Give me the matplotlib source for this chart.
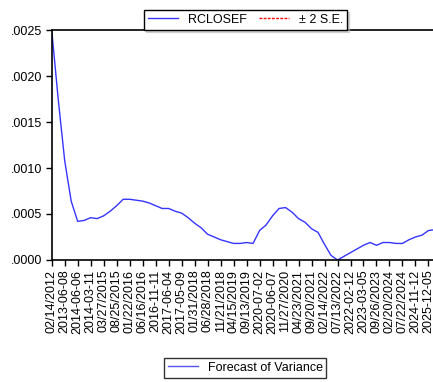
import numpy as np
import matplotlib
matplotlib.use("Agg")
import matplotlib.pyplot as plt
from matplotlib.lines import Line2D

plt.rcParams['font.family'] = ['Liberation Sans', 'DejaVu Sans']

# forecast of variance, read every half tick interval
variance = [0.0025, 0.00175, 0.00108, 0.00064, 0.00042, 0.00043, 0.00046, 0.00045,
            0.00048, 0.00053, 0.00059, 0.00066, 0.00066, 0.00065, 0.00064, 0.00062,
            0.00059, 0.00056, 0.00056, 0.00053, 0.00051, 0.00046, 0.00040, 0.00035,
            0.00028, 0.00025, 0.00022, 0.00020, 0.00018, 0.00018, 0.00019, 0.00018,
            0.00032, 0.00038, 0.00048, 0.00056, 0.00057, 0.00052, 0.00045, 0.00041,
            0.00034, 0.00030, 0.00017, 0.00005, 0.00000, 0.00004, 0.00008, 0.00012,
            0.00016, 0.00019, 0.00016, 0.00019, 0.00019, 0.00018, 0.00018, 0.00022,
            0.00025, 0.00027, 0.00032, 0.00033]

date_labels = ['02/14/2012', '2013-06-08', '2014-06-06', '2014-03-11', '03/27/2015',
               '08/25/2015', '01/22/2016', '06/16/2016', '2016-11-11', '2017-06-04',
               '2017-05-09', '01/31/2018', '06/28/2018', '11/21/2018', '04/15/2019',
               '09/13/2019', '2020-07-02', '2020-06-07', '11/27/2020', '04/23/2021',
               '09/20/2021', '02/14/2022', '07/13/2022', '2022-02-12', '2023-03-05',
               '09/26/2023', '02/20/2024', '07/22/2024', '2024-11-12', '2025-12-05']

yticks = [0.0, 0.0005, 0.0010, 0.0015, 0.0020, 0.0025]

fig = plt.figure(figsize=(4.33, 3.82), dpi=100)
ax = fig.add_axes([0.1194, 0.3194, 0.8806, 0.602])

x = np.arange(len(variance))
ax.plot(x, variance, color='#3535ff', lw=1.0)

ax.set_xlim(0, 58.7)
ax.set_ylim(0, 0.0025)
ax.set_xticks(np.arange(len(date_labels)) * 2)
ax.set_xticklabels(date_labels, rotation=90, fontsize=9)
ax.set_yticks(yticks)
ax.set_yticklabels([f"{v:.4f}".lstrip('0') for v in yticks], fontsize=9)
ax.tick_params(direction='out', length=4, width=1, pad=3)

for s in ['left', 'top', 'bottom']:
    ax.spines[s].set_linewidth(1.2)
ax.spines['right'].set_visible(False)

top_handles = [Line2D([], [], color='#3535ff', lw=1.0),
               Line2D([], [], color='red', lw=1.0, ls=(0, (2, 1)))]
leg1 = fig.legend(top_handles, ['RCLOSEF', '± 2 S.E.'], loc='center',
                  bbox_to_anchor=(0.567, 0.948), ncol=2, fontsize=9,
                  frameon=True, fancybox=False, edgecolor='black',
                  handlelength=2.4, columnspacing=1.0, borderpad=0.3,
                  shadow={'ox': 1.5, 'oy': -1.5, 'color': '0.7'})
leg1.get_frame().set_linewidth(1.0)

bottom_handles = [Line2D([], [], color='#5555ee', lw=1.0)]
leg2 = fig.legend(bottom_handles, ['Forecast of Variance'], loc='center',
                  bbox_to_anchor=(0.566, 0.037), fontsize=9,
                  frameon=True, fancybox=False, edgecolor='black',
                  handlelength=2.4, borderpad=0.3)
leg2.get_frame().set_linewidth(1.0)

fig.savefig('out.png', dpi=100)
